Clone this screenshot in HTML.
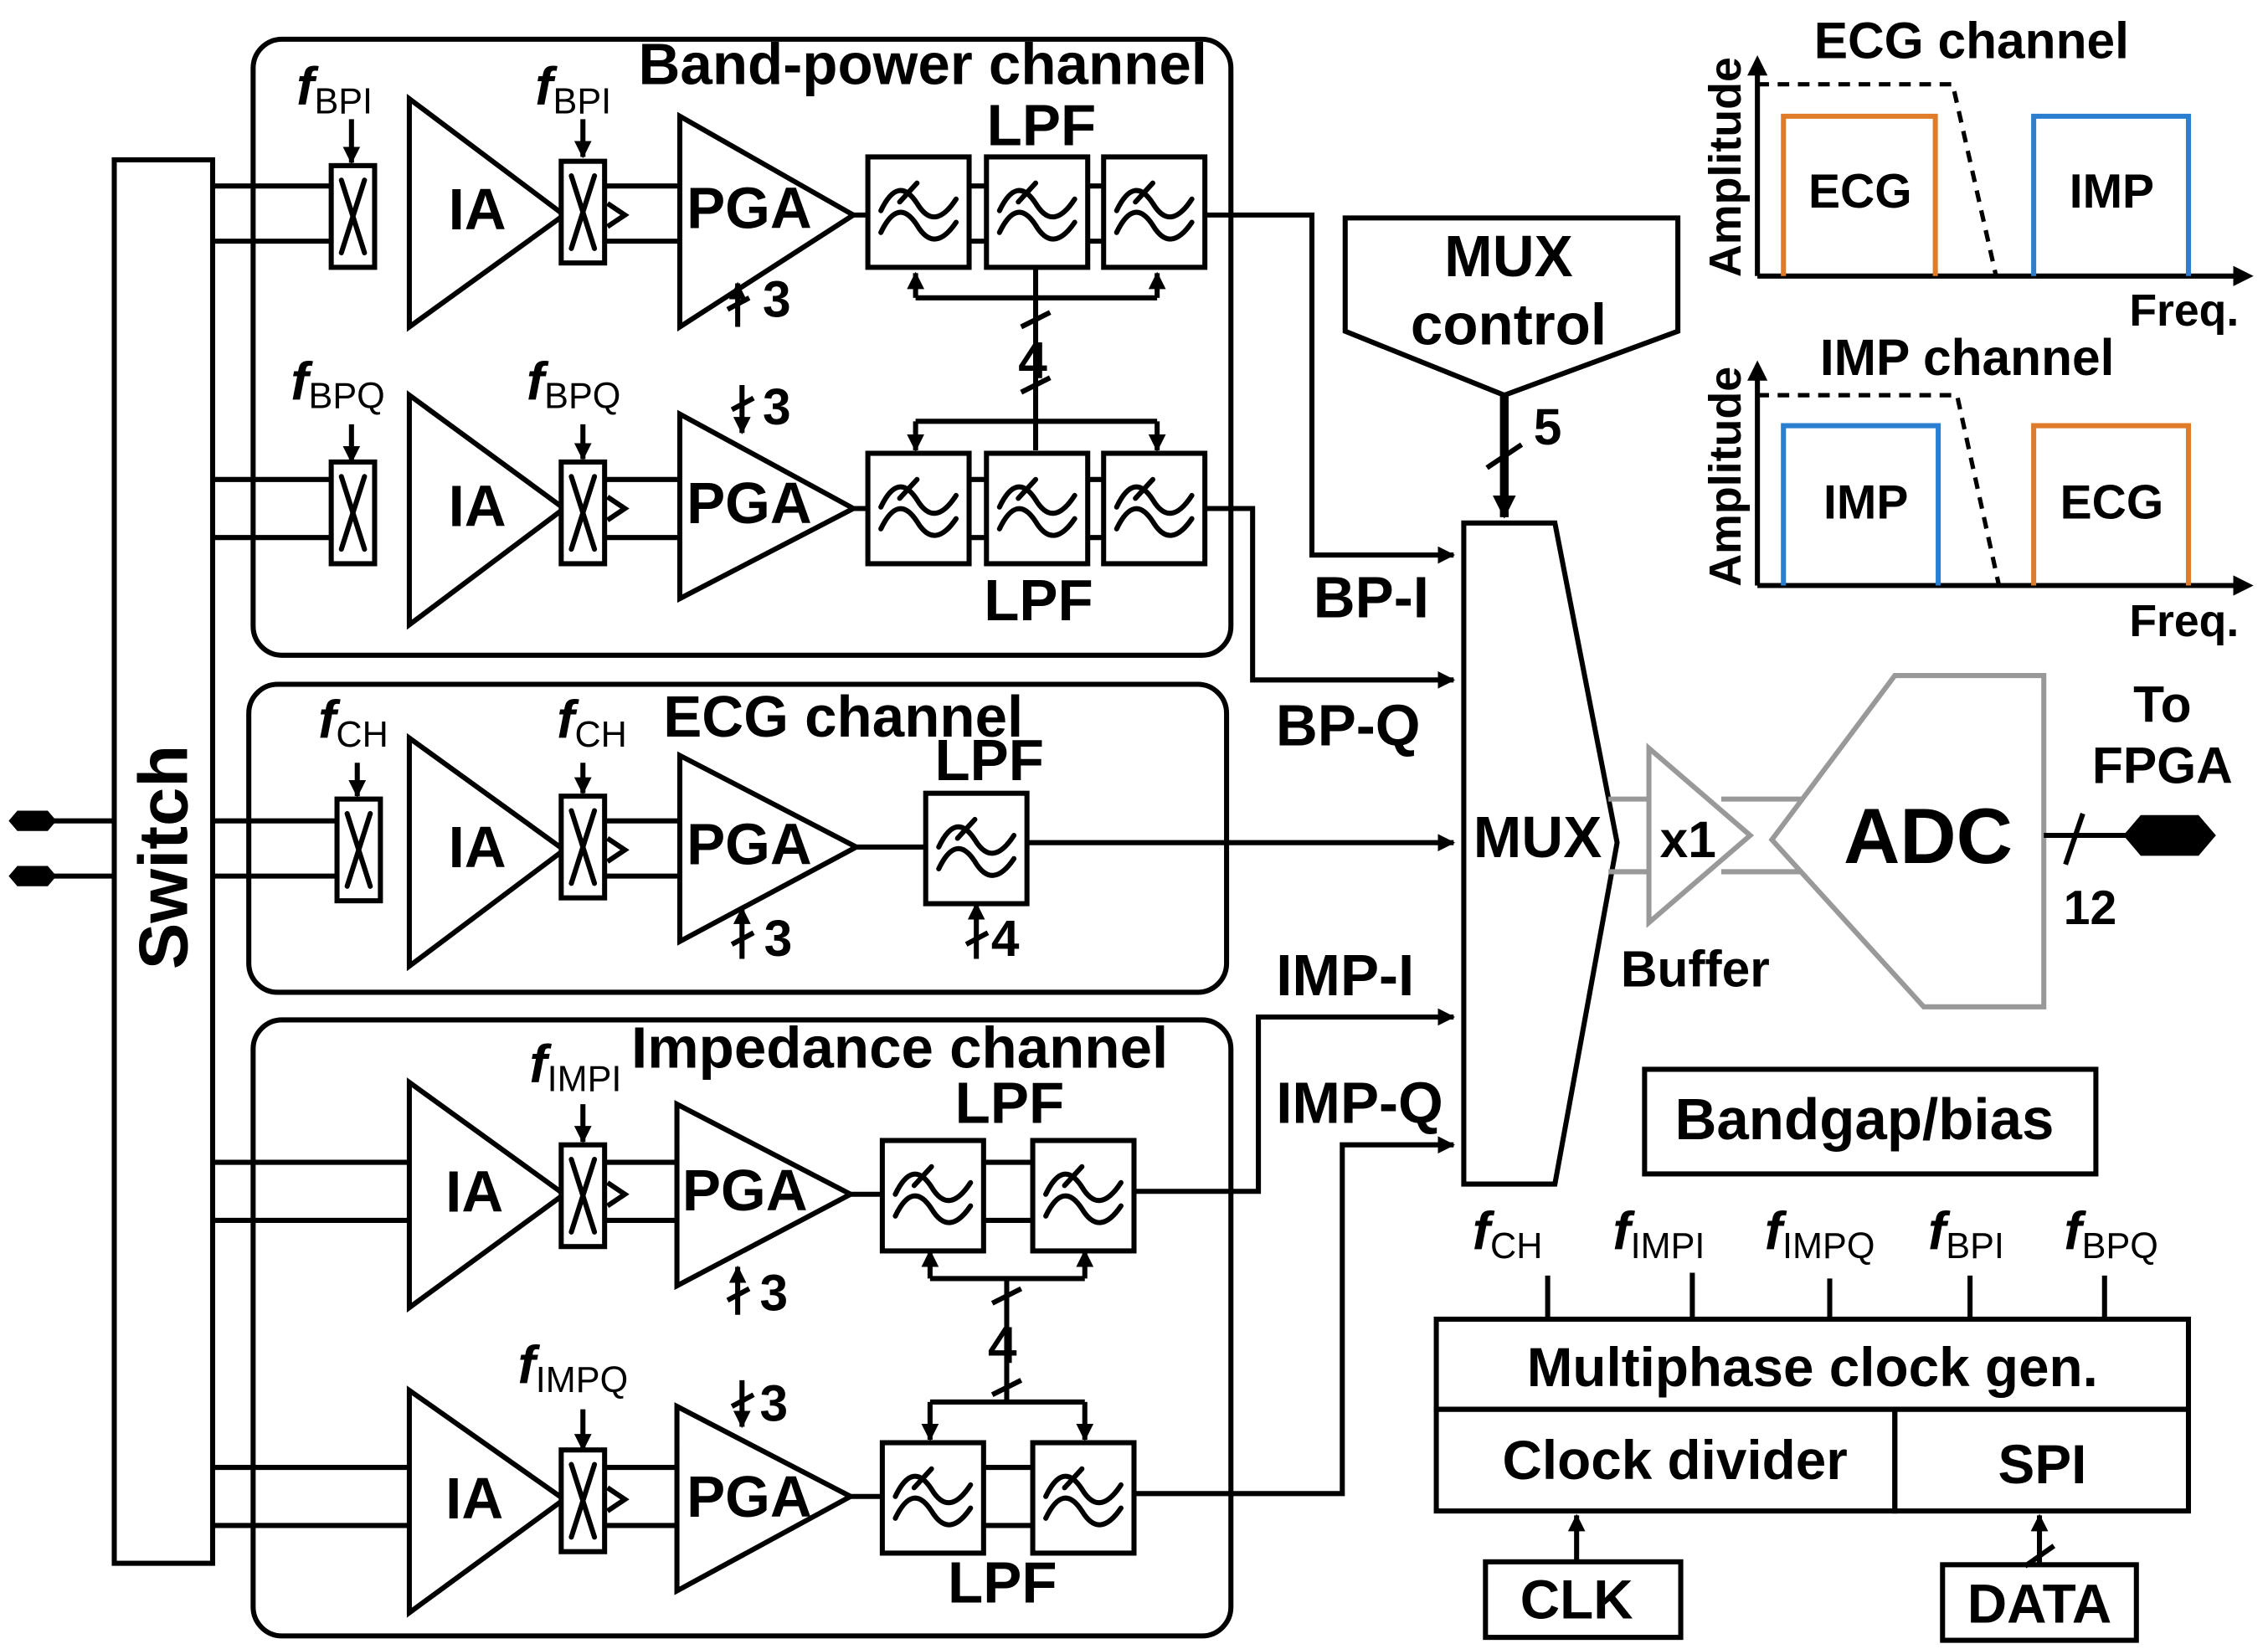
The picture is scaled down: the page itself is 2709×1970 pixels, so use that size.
<!DOCTYPE html>
<html><head><meta charset="utf-8"><style>html,body{margin:0;padding:0;background:#fff}svg{display:block}</style></head>
<body>
<svg width="2709" height="1970" viewBox="0 0 1568 1135" preserveAspectRatio="none" xmlns="http://www.w3.org/2000/svg" font-family="Liberation Sans, sans-serif" font-weight="bold">
<defs>
<g id="flt"><rect x="0" y="0" width="70" height="76" fill="#fff" stroke="#000" stroke-width="3.5"/>
<path d="M9,37 Q21,12 34,32 Q46,52 61,29" fill="none" stroke="#000" stroke-width="3.5" stroke-linecap="round"/>
<path d="M9,52 Q21,27 34,47 Q46,67 61,45" fill="none" stroke="#000" stroke-width="3.5" stroke-linecap="round"/>
<path d="M22,31 L34,18" stroke="#000" stroke-width="3.5" stroke-linecap="round"/></g>
<g id="chp"><rect x="0" y="0" width="30" height="70" fill="#fff" stroke="#000" stroke-width="3.5"/>
<path d="M7,10 L23,60 M23,10 L7,60" stroke="#000" stroke-width="3.5" stroke-linecap="round"/></g>
<marker id="ah" markerWidth="12" markerHeight="12" refX="11" refY="6" orient="auto" markerUnits="userSpaceOnUse"><path d="M0,0 L12,6 L0,12 z" fill="#000"/></marker>
<marker id="ab" markerWidth="16" markerHeight="16" refX="15" refY="8" orient="auto" markerUnits="userSpaceOnUse"><path d="M0,0 L16,8 L0,16 z" fill="#000"/></marker>
</defs>
<g stroke="#000" stroke-width="3.5" fill="none">
<rect x="175" y="27" width="676" height="424" rx="20"/>
<rect x="172" y="471" width="676" height="212" rx="20"/>
<rect x="175" y="702" width="676" height="424" rx="20"/>
<rect x="79" y="110" width="68" height="966" fill="#fff"/>
<path d="M35,565 H79 M35,603 H79"/>
<path d="M147,128 H230 M147,166 H230 M418,128 H470 M418,166 H470 M590,148 H600 M670,128 H682 M670,166 H682 M752,128 H763 M752,166 H763"/>
<path d="M833,148 H907 V382 H1005" marker-end="url(#ah)"/>
<path d="M147,330 H230 M147,370 H230 M418,330 H470 M418,370 H470 M590,350 H600 M670,330 H682 M670,370 H682 M752,330 H763 M752,370 H763"/>
<path d="M833,350 H866 V468 H1005" marker-end="url(#ah)"/>
<path d="M147,565 H232 M147,603 H232 M418,565 H470 M418,603 H470 M592,583 H640"/>
<path d="M710,580 H1005" marker-end="url(#ah)"/>
<path d="M147,800 H283 M147,840 H283 M418,800 H468 M418,840 H468 M588,822 H610 M680,800 H714 M680,840 H714"/>
<path d="M785,820 H870 V700 H1005" marker-end="url(#ah)"/>
<path d="M147,1010 H283 M147,1050 H283 M418,1010 H468 M418,1050 H468 M588,1030 H610 M680,1010 H714 M680,1050 H714"/>
<path d="M785,1028 H928 V788 H1005" marker-end="url(#ah)"/>
<polygon points="283,68 283,225 390,148" fill="#fff"/>
<polygon points="470,80 470,225 590,148" fill="#fff"/>
<polygon points="283,272 283,430 390,350" fill="#fff"/>
<polygon points="470,285 470,412 590,350" fill="#fff"/>
<polygon points="283,508 283,665 390,585" fill="#fff"/>
<polygon points="470,520 470,648 592,583" fill="#fff"/>
<polygon points="283,745 283,900 390,822" fill="#fff"/>
<polygon points="468,760 468,885 588,822" fill="#fff"/>
<polygon points="283,957 283,1110 390,1032" fill="#fff"/>
<polygon points="468,968 468,1095 588,1030" fill="#fff"/>
<path d="M420,140 L432,148 L420,156 M420,342 L432,350 L420,358 M420,577 L432,585 L420,593 M420,814 L432,822 L420,830 M420,1024 L432,1032 L420,1040"/>
<path d="M716,185 V205 M633,205 H800"/>
<path d="M633,205 V188" marker-end="url(#ah)"/><path d="M800,205 V188" marker-end="url(#ah)"/>
<path d="M716,205 V290 M633,290 H800 M706,225 L726,215 M706,270 L726,260"/>
<path d="M633,290 V310" marker-end="url(#ah)"/><path d="M800,290 V310" marker-end="url(#ah)"/>
<path d="M716,290 V310"/>
<path d="M643,880 H750 M696,880 V965 M643,965 H750 M686,897 L706,887 M686,960 L706,950"/>
<path d="M643,880 V861" marker-end="url(#ah)"/><path d="M750,880 V861" marker-end="url(#ah)"/>
<path d="M643,965 V991" marker-end="url(#ah)"/><path d="M750,965 V991" marker-end="url(#ah)"/>
<path d="M243,82 V112" marker-end="url(#ah)"/><path d="M403,82 V108" marker-end="url(#ah)"/>
<path d="M243,292 V318" marker-end="url(#ah)"/><path d="M403,292 V316" marker-end="url(#ah)"/>
<path d="M247,525 V548" marker-end="url(#ah)"/><path d="M403,525 V546" marker-end="url(#ah)"/>
<path d="M403,760 V786" marker-end="url(#ah)"/><path d="M403,970 V998" marker-end="url(#ah)"/>
<path d="M510,225 V195" marker-end="url(#ah)"/><path d="M503,213 L518,205"/>
<path d="M513,265 V298" marker-end="url(#ah)"/><path d="M506,282 L521,274"/>
<path d="M513,660 V625" marker-end="url(#ah)"/><path d="M506,650 L521,642"/>
<path d="M675,660 V622" marker-end="url(#ah)"/><path d="M668,650 L683,642"/>
<path d="M510,905 V872" marker-end="url(#ah)"/><path d="M503,895 L518,887"/>
<path d="M513,950 V982" marker-end="url(#ah)"/><path d="M506,968 L521,960"/>
<polygon points="1012,360 1075,360 1118,580 1075,815 1012,815" fill="#fff"/>
<polygon points="930,150 1160,150 1160,228 1040,272 930,228" fill="#fff"/>
<path d="M1040,272 V356" stroke-width="6" marker-end="url(#ab)"/>
<path d="M1028,322 L1052,306"/>
<g stroke="#999">
<path d="M1112,550 H1140 M1112,600 H1140 M1190,550 H1248 M1190,600 H1248"/>
<polygon points="1140,515 1140,635 1210,575" fill="#fff"/>
<polygon points="1225,578 1310,465 1413,465 1413,693 1330,693" fill="#fff"/>
</g>
<path d="M1413,575 H1475"/>
<path d="M1428,595 L1440,560"/>
<path d="M1215,190 V45 M1215,190 H1552"/>
<path d="M1215,403 V255 M1215,403 H1552"/>
<path d="M1215,58 H1350 L1380,190 M1215,272 H1353 L1382,403" stroke-dasharray="8,6" stroke-width="3"/>
<path d="M1233,190 V80 H1338 V190 M1406,403 V293 H1513 V403" stroke="#e07b2a"/>
<path d="M1406,190 V80 H1513 V190 M1233,403 V293 H1340 V403" stroke="#2a7fd0"/>
<rect x="1137" y="736" width="312" height="72"/>
<rect x="993" y="908" width="520" height="62"/>
<rect x="993" y="970" width="317" height="70"/>
<rect x="1310" y="970" width="203" height="70"/>
<path d="M1070,878 V908 M1170,876 V908 M1265,880 V908 M1362,878 V908 M1455,878 V908"/>
<rect x="1027" y="1075" width="135" height="52"/>
<rect x="1343" y="1077" width="134" height="52"/>
<path d="M1090,1075 V1043" marker-end="url(#ah)"/>
<path d="M1410,1077 V1043" marker-end="url(#ah)"/><path d="M1400,1078 L1420,1064"/>
</g>
<g fill="#000" stroke="none">
<polygon points="1215,38 1208,52 1222,52"/><polygon points="1558,190 1544,183 1544,197"/>
<polygon points="1215,248 1208,262 1222,262"/><polygon points="1558,403 1544,396 1544,410"/>
<polygon points="6,565 12,558 33,558 39,565 33,572 12,572"/>
<polygon points="6,603 12,596 33,596 39,603 33,610 12,610"/>
<polygon points="1468,575 1480,561 1520,561 1532,575 1520,589 1480,589"/>
</g>
<use href="#flt" x="600" y="108"/><use href="#flt" x="682" y="108"/><use href="#flt" x="763" y="108"/>
<use href="#flt" x="600" y="312"/><use href="#flt" x="682" y="312"/><use href="#flt" x="763" y="312"/>
<use href="#flt" x="640" y="546"/>
<use href="#flt" x="610" y="785"/><use href="#flt" x="714" y="785"/>
<use href="#flt" x="610" y="993"/><use href="#flt" x="714" y="993"/>
<use href="#chp" x="229" y="114"/><use href="#chp" x="388" y="111"/>
<use href="#chp" x="229" y="318"/><use href="#chp" x="388" y="318"/>
<use href="#chp" x="233" y="550"/><use href="#chp" x="388" y="548"/>
<use href="#chp" x="388" y="788"/><use href="#chp" x="388" y="998"/>
<g font-size="40" text-anchor="middle" fill="#000">
<text x="113" y="590" font-size="48" transform="rotate(-90 113 590)" dominant-baseline="central">Switch</text>
<text x="330" y="158">IA</text><text x="330" y="362">IA</text><text x="330" y="597">IA</text><text x="328" y="834">IA</text><text x="328" y="1045">IA</text>
<text x="518" y="157">PGA</text><text x="518" y="360">PGA</text><text x="518" y="595">PGA</text><text x="515" y="833">PGA</text><text x="518" y="1044">PGA</text>
<text x="638" y="58">Band-power channel</text>
<text x="720" y="100">LPF</text><text x="718" y="427">LPF</text>
<text x="583" y="507">ECG channel</text><text x="684" y="537">LPF</text>
<text x="622" y="735">Impedance channel</text><text x="698" y="773">LPF</text><text x="693" y="1103">LPF</text>
<text x="537" y="218" font-size="35">3</text><text x="537" y="292" font-size="35">3</text>
<text x="538" y="658" font-size="35">3</text><text x="695" y="658" font-size="35">4</text>
<text x="535" y="902" font-size="35">3</text><text x="535" y="978" font-size="35">3</text>
<text x="714" y="260" font-size="36">4</text><text x="693" y="938" font-size="36">4</text>
<text x="948" y="425">BP-I</text><text x="932" y="513">BP-Q</text>
<text x="930" y="685">IMP-I</text><text x="940" y="773">IMP-Q</text>
<text x="1063" y="590">MUX</text>
<text x="1043" y="190">MUX</text><text x="1043" y="237">control</text>
<text x="1070" y="306" font-size="35">5</text>
<text x="1167" y="590" font-size="35">x1</text>
<text x="1172" y="679" font-size="35">Buffer</text>
<text x="1333" y="594" font-size="54">ADC</text>
<text x="1495" y="497" font-size="35">To</text><text x="1495" y="539" font-size="35">FPGA</text>
<text x="1445" y="636" font-size="33">12</text>
<text x="1363" y="40" font-size="35">ECG channel</text><text x="1360" y="258" font-size="35">IMP channel</text>
<text x="1193" y="115" font-size="31" transform="rotate(-90 1193 115)" dominant-baseline="central">Amplitude</text>
<text x="1193" y="328" font-size="31" transform="rotate(-90 1193 328)" dominant-baseline="central">Amplitude</text>
<text x="1510" y="224" font-size="31">Freq.</text><text x="1510" y="438" font-size="31">Freq.</text>
<text x="1286" y="143" font-size="33">ECG</text><text x="1460" y="143" font-size="33">IMP</text>
<text x="1290" y="357" font-size="33">IMP</text><text x="1460" y="357" font-size="33">ECG</text>
<text x="1289" y="784">Bandgap/bias</text>
<text x="1253" y="954" font-size="38">Multiphase clock gen.</text>
<text x="1158" y="1018" font-size="38">Clock divider</text>
<text x="1412" y="1021" font-size="38">SPI</text>
<text x="1090" y="1114" font-size="38">CLK</text>
<text x="1410" y="1117" font-size="38">DATA</text>
</g>
<g font-size="37" fill="#000">
<text x="205" y="72"><tspan font-style="italic">f</tspan><tspan font-size="25" font-weight="normal" dy="6">BPI</tspan></text>
<text x="370" y="72"><tspan font-style="italic">f</tspan><tspan font-size="25" font-weight="normal" dy="6">BPI</tspan></text>
<text x="201" y="275"><tspan font-style="italic">f</tspan><tspan font-size="25" font-weight="normal" dy="6">BPQ</tspan></text>
<text x="364" y="275"><tspan font-style="italic">f</tspan><tspan font-size="25" font-weight="normal" dy="6">BPQ</tspan></text>
<text x="220" y="508"><tspan font-style="italic">f</tspan><tspan font-size="25" font-weight="normal" dy="6">CH</tspan></text>
<text x="385" y="508"><tspan font-style="italic">f</tspan><tspan font-size="25" font-weight="normal" dy="6">CH</tspan></text>
<text x="366" y="745"><tspan font-style="italic">f</tspan><tspan font-size="25" font-weight="normal" dy="6">IMPI</tspan></text>
<text x="358" y="952"><tspan font-style="italic">f</tspan><tspan font-size="25" font-weight="normal" dy="6">IMPQ</tspan></text>
<text x="1018" y="860"><tspan font-style="italic">f</tspan><tspan font-size="25" font-weight="normal" dy="6">CH</tspan></text>
<text x="1115" y="860"><tspan font-style="italic">f</tspan><tspan font-size="25" font-weight="normal" dy="6">IMPI</tspan></text>
<text x="1220" y="860"><tspan font-style="italic">f</tspan><tspan font-size="25" font-weight="normal" dy="6">IMPQ</tspan></text>
<text x="1333" y="860"><tspan font-style="italic">f</tspan><tspan font-size="25" font-weight="normal" dy="6">BPI</tspan></text>
<text x="1427" y="860"><tspan font-style="italic">f</tspan><tspan font-size="25" font-weight="normal" dy="6">BPQ</tspan></text>
</g>
</svg>
</body></html>
